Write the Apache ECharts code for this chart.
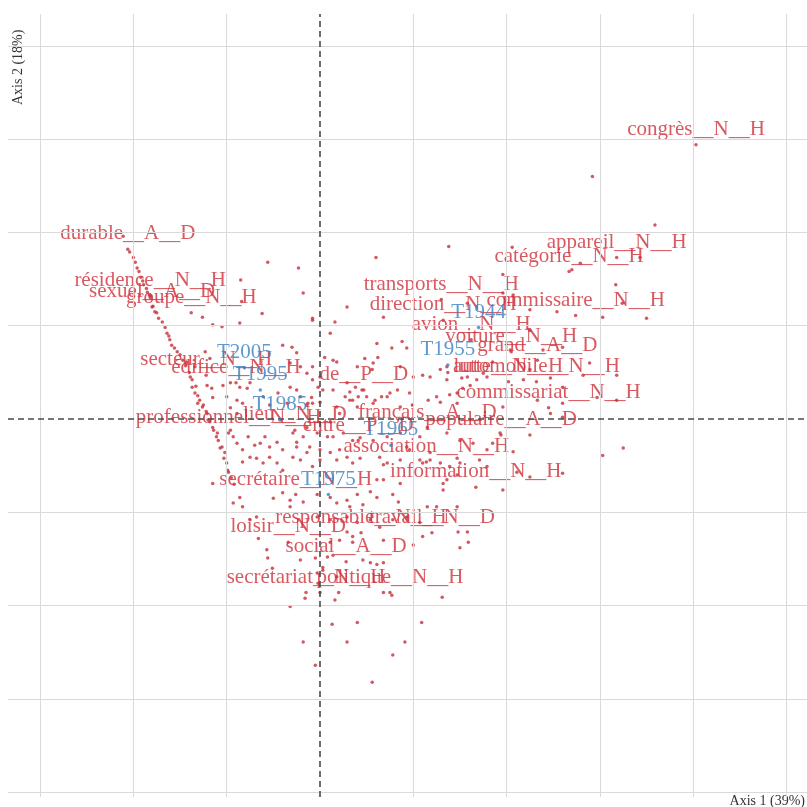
<!DOCTYPE html>
<html>
<head>
<meta charset="utf-8">
<script src="https://cdn.jsdelivr.net/npm/echarts@6/dist/echarts.min.js"></script>
<style>html,body{margin:0;padding:0;background:#fff;}#chart{width:807px;height:807px;}</style>
</head>
<body>
<div id="chart"></div>
<script>
// Grid line positions (axis units)
var gridX = [-3, -2, -1, 0, 1, 2, 3, 4, 5];
var gridY = [-4, -3, -2, -1, 0, 1, 2, 3, 4];

// Labelled column points (words)
var wordLabels = ["congrès__N__H","durable__A__D","appareil__N__H","catégorie__N__H","résidence__N__H","sexuel__A__D","groupe__N__H","transports__N__H","commissaire__N__H","direction__N__H","avion__N__H","voiture__N__H","grand__A__D","lutte__N__H","automobile__N__H","commissariat__N__H","de__P__D","secteur__N__H","édifice__N__H","professionnel__N__H","lieu__N__D","français__A__D","populaire__A__D","entre__P__D","association__N__H","information__N__H","secrétaire__N__H","loisir__N__D","responsable__N__H","travail__N__D","social__A__D","secrétariat__N__H","politique__N__H"];
var wordX = [4.03,-2.06,3.18,2.67,-1.82,-1.80,-1.38,1.30,2.74,1.32,1.62,2.05,2.33,2.02,2.32,2.45,0.47,-1.22,-0.90,-0.98,-0.27,1.15,1.94,0.41,1.14,1.67,-0.26,-0.34,0.44,1.20,0.28,-0.15,0.75];
var wordY = [2.94,1.82,1.73,1.58,1.32,1.20,1.14,1.28,1.11,1.06,0.85,0.72,0.63,0.40,0.40,0.12,0.31,0.47,0.39,-0.15,-0.12,-0.09,-0.17,-0.23,-0.46,-0.73,-0.81,-1.32,-1.22,-1.22,-1.53,-1.86,-1.86];

// Row points (periods)
var yearLabels = ["T1944","T1955","T1965","T1975","T1985","T1995","T2005"];
var yearX = [1.70,1.37,0.76,0.09,-0.43,-0.64,-0.81];
var yearY = [0.98,0.58,-0.28,-0.81,-0.01,0.31,0.55];

// Unlabelled column points
var otherPoints = [
[2.92,2.60],[3.59,2.08],[2.79,1.67],[3.43,1.73],[2.06,1.84],[1.96,1.55],[3.17,1.44],[2.70,1.60],[0.60,1.73],[1.38,1.85],
[-0.56,1.68],[-0.23,1.62],[-0.85,1.49],[-0.18,1.35],[-0.84,1.26],[-0.62,1.13],[-0.08,1.08],[-1.26,1.09],[-1.15,1.01],[-1.05,0.99],
[-0.86,1.03],[0.29,1.20],[0.16,1.04],[0.68,1.09],[1.58,1.24],[1.96,1.35],[2.07,1.33],[2.54,1.15],[3.03,1.09],[3.24,1.24],
[3.50,1.08],[2.25,1.17],[0.61,0.81],[0.77,0.76],[0.88,0.83],[0.14,0.63],[0.48,0.65],[0.57,0.60],[0.86,0.56],[1.10,0.47],
[1.18,0.45],[1.36,0.56],[1.37,0.50],[1.58,0.45],[1.79,0.45],[1.85,0.61],[2.04,0.74],[2.25,0.95],[2.39,0.74],[2.60,0.77],
[2.89,0.60],[2.18,0.42],[2.25,0.53],[2.47,0.44],[2.60,0.34],[2.82,0.47],[3.18,0.47],[1.53,0.33],[1.47,0.28],[1.25,0.24],
[0.96,0.28],[0.32,0.20],[0.40,0.13],[0.57,0.17],[0.72,0.24],[1.96,0.13],[2.33,0.20],[2.60,0.17],[2.97,0.23],[3.18,0.20],
[1.39,0.26],[2.47,0.06],[2.60,0.02],[2.25,-0.17],[1.93,-0.15],[1.79,-0.33],[2.07,-0.35],[1.85,-0.26],[1.18,-0.36],[1.07,-0.44],
[1.47,-0.42],[0.68,-0.49],[1.36,-0.65],[2.11,-0.57],[2.25,-0.62],[3.03,-0.39],[3.25,-0.31],[2.60,-0.58],[1.96,-0.76],[0.86,-0.69],
[0.61,-0.65],[1.32,-0.76],
[-0.08,1.06],[0.11,0.92],[0.93,0.76],[0.62,0.66],[0.18,0.61],[0.40,0.56],[0.56,0.53],[-0.08,0.56],[0.05,0.66],[-0.14,0.49],
[0.00,0.45],[-0.08,0.42],[-0.02,0.34],[0.03,0.31],[0.29,0.39],[0.38,0.34],[0.45,0.31],[0.32,0.29],[0.14,0.31],[0.27,0.24],
[0.35,0.20],[0.41,0.24],[0.50,0.24],[0.59,0.20],[0.66,0.24],[0.75,0.28],[0.83,0.31],[1.00,0.45],[1.29,0.53],[1.36,0.42],
[1.52,0.44],[1.61,0.36],[1.68,0.42],[1.75,0.49],[0.00,0.18],[-0.08,0.17],[-0.09,0.23],[-0.14,0.15],[0.18,0.13],[0.86,0.13],
[0.99,0.15],[1.16,0.20],[1.29,0.18],[1.47,0.17],[0.21,0.06],[0.11,-0.03],[-0.14,-0.09],[-0.03,-0.15],[0.08,-0.19],[0.14,-0.19],
[0.25,-0.15],[0.35,-0.23],[0.43,-0.20],[0.57,-0.23],[0.72,-0.19],[0.86,-0.15],[0.93,-0.30],[1.07,-0.19],[1.36,-0.15],[1.50,-0.23],
[1.64,-0.26],[-0.11,-0.30],[0.00,-0.33],[0.11,-0.36],[0.21,-0.33],[0.29,-0.41],[0.18,-0.44],[0.35,-0.47],[0.43,-0.42],[0.00,-0.44],
[-0.08,-0.51],[0.64,-0.41],[0.72,-0.47],[0.86,-0.44],[0.96,-0.33],[1.10,-0.47],[1.18,-0.44],[1.29,-0.47],[1.39,-0.51],[1.50,-0.47],
[1.71,-0.44],[1.79,-0.51],[1.47,-0.60],
[-1.23,0.72],[-1.18,0.65],[-0.40,0.79],[-0.30,0.77],[-0.25,0.71],[-0.32,0.60],[-0.21,0.56],[-1.21,0.36],[-1.16,0.33],[-1.04,0.36],
[-0.96,0.39],[-0.86,0.34],[-0.78,0.33],[-0.75,0.39],[-1.15,0.23],[-1.31,0.17],[-1.26,0.13],[-1.21,0.06],[-1.00,0.24],[-0.89,0.20],
[-0.83,0.17],[-0.96,0.12],[-0.89,0.06],[-0.61,0.24],[-0.54,0.15],[-0.45,0.28],[-0.35,0.17],[-0.25,0.31],[-0.21,0.24],[-0.13,0.17],
[-0.32,0.34],[-1.15,-0.09],[-1.20,-0.01],[-1.10,-0.15],[-1.09,-0.23],[-1.05,-0.30],[-0.96,-0.12],[-0.93,-0.19],[-0.89,-0.26],[-0.77,-0.19],
[-0.70,-0.28],[-0.64,-0.26],[-0.59,-0.19],[-0.54,-0.30],[-0.46,-0.25],[-0.40,-0.33],[-0.29,-0.15],[-0.25,-0.25],[-0.25,-0.30],[-0.18,-0.19],
[-0.83,-0.33],[-1.02,-0.36],[-1.00,-0.47],[-0.99,-0.55],[-0.83,-0.46],[-0.75,-0.41],[-0.68,-0.42],[-0.61,-0.47],[-0.54,-0.41],[-0.46,-0.47],
[-0.40,-0.55],[-0.29,-0.41],[-0.21,-0.44],[-0.14,-0.36],
[-2.11,1.96],[-2.04,1.79],[-2.00,1.73],[-1.98,1.68],[-1.96,1.62],[-1.94,1.58],[-1.92,1.52],[-1.90,1.48],[-1.89,1.44],[-1.86,1.40],
[-1.85,1.36],[-1.83,1.33],[-1.82,1.30],[-1.79,1.21],[-1.77,1.15],[-1.75,1.14],[-1.73,1.08],[-1.69,1.04],[-1.66,0.98],[-1.64,0.92],
[-1.62,0.89],[-1.61,0.85],[-1.59,0.79],[-1.56,0.76],[-1.53,0.72],[-1.50,0.69],[-1.47,0.63],[-1.44,0.57],[-1.43,0.61],[-1.40,0.50],
[-1.39,0.45],[-1.37,0.42],[-1.37,0.34],[-1.34,0.28],[-1.33,0.35],[-1.31,0.25],[-1.29,0.20],[-1.25,0.15],[-1.22,0.08],[-1.18,-0.03],
[-1.14,-0.12],[-1.11,-0.19],[-1.07,-0.31],[-1.03,-0.42],[-0.98,-0.57],[-0.95,-0.63],[-0.92,-0.70],[-1.34,0.56],
[-1.15,-0.69],[-0.86,-0.84],[-0.83,-0.94],[-0.93,-0.90],[-0.50,-0.85],[-0.40,-0.79],[-0.32,-0.87],[-0.18,-0.89],[-0.03,-0.81],[0.11,-0.84],
[0.18,-0.90],[0.29,-0.87],[0.40,-0.81],[0.54,-0.78],[0.61,-0.84],[0.68,-0.65],[0.78,-0.81],[0.84,-0.89],[0.46,-0.92],[0.32,-0.94],
[-0.32,-0.94],[-0.75,-1.08],[-0.68,-1.05],[-0.03,-1.05],[0.11,-1.08],[0.29,-1.05],[0.40,-1.11],[0.54,-1.08],[0.64,-1.16],[0.78,-1.08],
[0.93,-1.05],[1.07,-1.11],[1.15,-0.94],[1.25,-0.94],[1.32,-0.69],[1.47,-0.94],[1.58,-1.21],[1.48,-1.21],[1.59,-1.32],[1.50,-1.38],
[1.10,-1.26],[0.29,-1.21],[0.35,-1.26],[-0.66,-1.28],[-0.57,-1.40],[-0.56,-1.49],[-0.51,-1.60],[-0.21,-1.51],[-0.05,-1.49],[0.08,-1.48],
[0.14,-1.46],[0.46,-1.51],[0.54,-1.54],[0.61,-1.56],[0.68,-1.54],[1.00,-1.35],[0.11,-1.32],[0.21,-1.30],[0.35,-1.32],[0.68,-1.30],
[0.03,-1.62],[0.18,-1.69],[-0.02,-1.76],[-0.16,-1.92],[0.16,-1.94],[0.68,-1.86],[0.77,-1.89],[1.31,-1.91],[-0.32,-2.01],[0.13,-2.20],
[0.40,-2.18],[1.09,-2.18],[-0.18,-2.39],[0.29,-2.39],[0.91,-2.39],[0.78,-2.53],[-0.05,-2.64],[0.56,-2.82],[-0.03,-1.65],[0.03,-1.59],
[0.00,-1.86],[0.20,-1.86]
];

var axis1Title = "Axis 1 (39%)";
var axis2Title = "Axis 2 (18%)";

var RED = '#cf3039';
var DOT = '#c62f3a';
var BLUE = '#3a7fc0';
var FONT = '"Liberation Serif", "DejaVu Serif", serif';

var wordData = wordLabels.map(function (n, i) { return { name: n, value: [wordX[i], wordY[i]] }; });
var yearData = yearLabels.map(function (n, i) { return { name: n, value: [yearX[i], yearY[i]] }; });

var gridLines = [];
gridX.forEach(function (v) { if (v !== 0) gridLines.push({ xAxis: v }); });
gridY.forEach(function (v) { if (v !== 0) gridLines.push({ yAxis: v }); });

var labelStyle = function (c) {
  return {
    show: true, formatter: '{b}', position: 'top', distance: 3,
    color: c, fontFamily: FONT, fontSize: 21, lineHeight: 21
  };
};

var chart = echarts.init(document.getElementById('chart'), null, { renderer: 'canvas' });
chart.setOption({
  animation: false,
  backgroundColor: '#ffffff',
  grid: { left: 8, right: 0, top: 14, bottom: 10, containLabel: false },
  xAxis: { type: 'value', min: -3.344, max: 5.22, show: false },
  yAxis: { type: 'value', min: -4.051, max: 4.341, show: false },
  graphic: [
    { type: 'text', right: 2, top: 794, style: { text: axis1Title, font: '14px ' + FONT, fill: '#333' } },
    { type: 'text', x: 11, y: 105, rotation: Math.PI / 2, style: { text: axis2Title, font: '14px ' + FONT, fill: '#333' } }
  ],
  series: [
    {
      type: 'line', data: [], silent: true, z: 1,
      markLine: {
        silent: true, symbol: 'none', label: { show: false }, animation: false,
        lineStyle: { color: '#dadada', width: 1, type: 'solid' },
        data: gridLines
      }
    },
    {
      type: 'line', data: [], silent: true, z: 2,
      markLine: {
        silent: true, symbol: 'none', label: { show: false }, animation: false,
        lineStyle: { color: '#4a4a4a', width: 1.6, type: [6, 4] },
        data: [{ xAxis: 0 }, { yAxis: 0 }]
      }
    },
    {
      type: 'scatter', data: otherPoints, symbol: 'circle', symbolSize: 3.5, z: 3,
      itemStyle: { color: DOT }
    },
    {
      type: 'scatter', data: wordData, symbol: 'circle', symbolSize: 3.5, z: 4,
      itemStyle: { color: DOT },
      label: labelStyle(RED),
      labelLayout: { hideOverlap: false }
    },
    {
      type: 'scatter', data: yearData, symbol: 'circle', symbolSize: 3.5, z: 5,
      itemStyle: { color: BLUE },
      label: labelStyle(BLUE),
      labelLayout: { hideOverlap: false }
    }
  ]
});
</script>
</body>
</html>
